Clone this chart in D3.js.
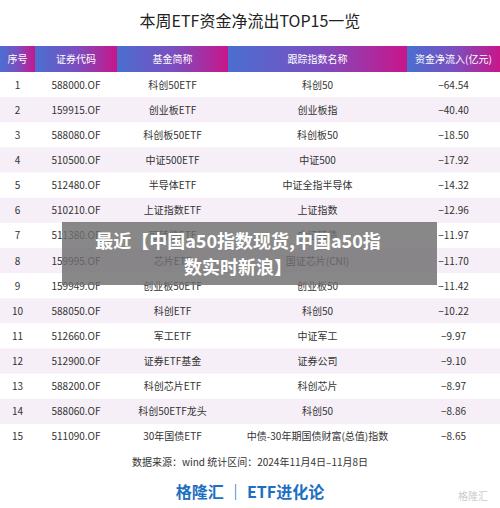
<!DOCTYPE html><html><head><meta charset="utf-8"><script src="https://cdn.jsdelivr.net/npm/d3@7"></script>
<style>body{margin:0;background:#fff}</style></head><body><script>
const headers=["序号","证券代码","基金简称","跟踪指数名称","资金净流入(亿元)"];
const codes=["588000.OF","159915.OF","588080.OF","510500.OF","512480.OF","510210.OF","511380.OF","159995.OF","159949.OF","588050.OF","512660.OF","512900.OF","588200.OF","588060.OF","511090.OF"];
const funds=["科创50ETF","创业板ETF","科创板50ETF","中证500ETF","半导体ETF","上证指数ETF","可转债ETF","芯片ETF","创业板50ETF","科创ETF","军工ETF","证券ETF基金","科创芯片ETF","科创50ETF龙头","30年国债ETF"];
const indices=["科创50","创业板指","科创板50","中证500","中证全指半导体","上证指数","中证转债","国证芯片(CNI)","创业板50","科创50","中证军工","证券公司","科创芯片","科创50","中债-30年期国债财富(总值)指数"];
const flows=[-64.54,-40.40,-18.50,-17.92,-14.32,-12.96,-11.97,-11.70,-11.42,-10.22,-9.97,-9.10,-8.97,-8.86,-8.65];
const W=500,H=508;
const svg=d3.select("body").append("svg").attr("width",W).attr("height",H).style("font-family","'Noto Sans CJK SC',sans-serif");
const defs=svg.append("defs");
const g=defs.append("linearGradient").attr("id","hg");
g.append("stop").attr("offset","0").attr("stop-color","#4a6fd0");
g.append("stop").attr("offset","0.5").attr("stop-color","#7a4fc0");
g.append("stop").attr("offset","1").attr("stop-color","#c8168a");
const edges=[0,35,117,228,407,500];
const x=i=>edges[i], cx=i=>(edges[i]+edges[i+1])/2;
const y=d3.scaleBand().domain(d3.range(15)).range([72,449]);
svg.append("text").attr("x",250).attr("y",27).attr("text-anchor","middle").attr("font-size",16).attr("fill","#222").text("本周ETF资金净流出TOP15一览");
headers.forEach((h,i)=>{
 svg.append("rect").attr("x",x(i)).attr("y",46).attr("width",edges[i+1]-edges[i]).attr("height",26).attr("fill","url(#hg)");
 svg.append("text").attr("x",cx(i)).attr("y",63).attr("text-anchor","middle").attr("font-size",10).attr("fill","#fff").text(h);
});
const cols=[d3.range(15).map(i=>String(i+1)),codes,funds,indices,flows.map(v=>"−"+Math.abs(v).toFixed(2))];
d3.range(15).forEach(r=>{
 if(r%2==1) svg.append("rect").attr("x",0).attr("y",y(r)).attr("width",W).attr("height",y.bandwidth()).attr("fill","#f6eff7");
 cols.forEach((c,i)=>svg.append("text").attr("x",cx(i)).attr("y",y(r)+y.bandwidth()/2+4).attr("text-anchor","middle").attr("font-size",10).attr("fill","#333").text(c[r]));
});
svg.append("text").attr("x",250).attr("y",466).attr("text-anchor","middle").attr("font-size",10).attr("fill","#333").text("数据来源：wind 统计区间：2024年11月4日–11月8日");
svg.append("text").attr("x",250).attr("y",498).attr("text-anchor","middle").attr("font-size",16).attr("font-weight","bold").attr("fill","#1d6fbf").text("格隆汇  ｜  ETF进化论");
svg.append("text").attr("x",488).attr("y",500).attr("text-anchor","end").attr("font-size",10).attr("fill","#ccc").text("格隆汇");
svg.append("rect").attr("x",62).attr("y",222).attr("width",375).attr("height",63).attr("fill","rgba(110,110,110,0.82)");
svg.append("text").attr("x",238).attr("y",248).attr("text-anchor","middle").attr("font-size",18).attr("font-weight","bold").attr("fill","#fff").text("最近【中国a50指数现货,中国a50指");
svg.append("text").attr("x",238).attr("y",274).attr("text-anchor","middle").attr("font-size",18).attr("font-weight","bold").attr("fill","#fff").text("数实时新浪】");
</script></body></html>
